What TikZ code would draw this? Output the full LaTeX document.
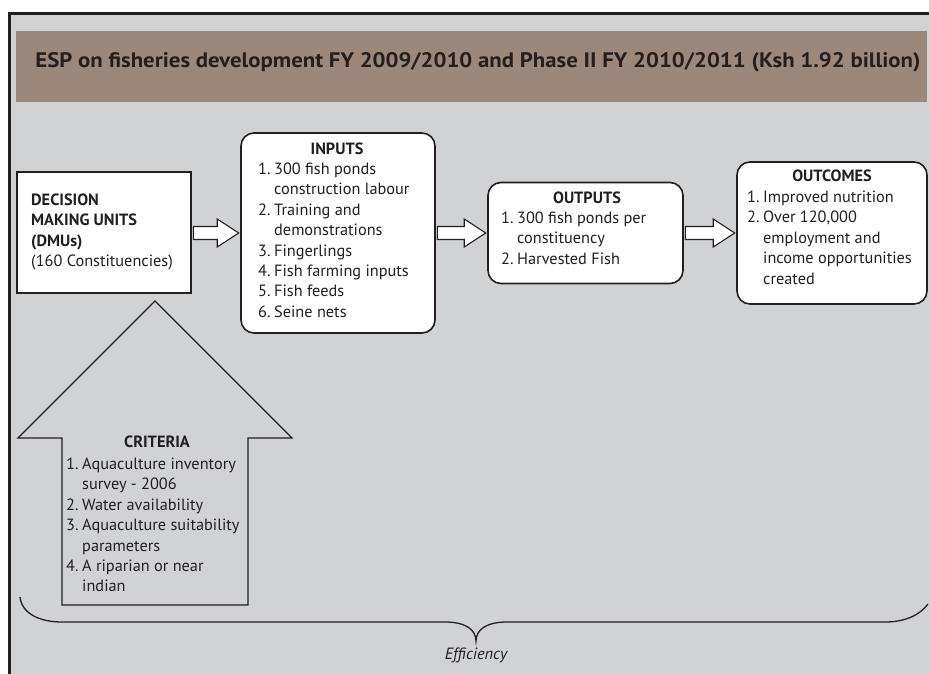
\documentclass[tikz,border=0pt]{standalone}
\usepackage{fontspec}
\setmainfont{PT Sans}
\usetikzlibrary{calc}
\definecolor{panel}{HTML}{D1D2D4}
\definecolor{band}{HTML}{9C887A}
\definecolor{ink}{HTML}{231F20}
\newcommand\bodyfont{\fontsize{16.3}{20.4}\selectfont}
\newcommand\itm[1]{\makebox[16pt][l]{#1}}
\newcommand\ind{\hspace*{16pt}}
\newcommand\blockarrow[2]{%
  \draw[blk] ($(#1.east |- #2.west)+(1.5,-6.5)$) -- ($(#2.west)+(-23,-6.5)$)
    -- ($(#2.west)+(-23,-14)$) -- ($(#2.west)+(-1.5,0)$) -- ($(#2.west)+(-23,14)$)
    -- ($(#2.west)+(-23,6.5)$) -- ($(#1.east |- #2.west)+(1.5,6.5)$) -- cycle;}
\tikzset{
  box/.style={draw=ink, line width=1.6pt, fill=white, inner sep=0pt},
  rbox/.style={box, rounded corners=13pt},
  txt/.style={inner sep=0pt, anchor=base west, font=\bodyfont, text=ink},
  head/.style={inner sep=0pt, anchor=base, font=\bodyfont\bfseries, text=ink},
  blk/.style={draw=ink, line width=1.1pt, fill=white, line join=miter},
  outline/.style={draw=ink, line width=1.1pt},
}
\begin{document}
\begin{tikzpicture}[x=1pt,y=-1pt]
\useasboundingbox (0,0) rectangle (929,674);
\clip (0,0) rectangle (929,674);
% frame
\fill[panel] (9,13.5) rectangle (945,690);
\draw[ink, line width=3pt] (9,690) -- (9,13.5) -- (945,13.5);
% title band
\fill[band] (16,31) rectangle (927,102);
\node[inner sep=0pt, anchor=base, text=ink] (title) at (478,67.5)
  {\resizebox{885pt}{15pt}{\bfseries ESP on fisheries development FY 2009/2010 and Phase II FY 2010/2011 (Ksh 1.92 billion)}};

% boxes
\node[box, minimum width=174pt, minimum height=121pt] (dmu) at (104,232.5) {};
\node[rbox, minimum width=194pt, minimum height=200pt] (inputs) at (338,233) {};
\node[rbox, minimum width=195pt, minimum height=101pt] (outputs) at (585.5,233) {};
\node[rbox, minimum width=190pt, minimum height=142pt] (outcomes) at (832,233) {};

% texts
\node[txt] (dmutxt) at (31,205.5) {\begin{tabular}[t]{@{}l@{}}
\textbf{DECISION}\\ \textbf{MAKING UNITS}\\ \textbf{(DMUs)}\\ (160 Constituencies)\end{tabular}};

\node[head] (inhead) at (337,154) {INPUTS};
\node[txt] (intxt) at (258,174.5) {\begin{tabular}[t]{@{}l@{}}
\itm{1.}300 fish ponds\\ \ind construction labour\\
\itm{2.}Training and\\ \ind demonstrations\\
\itm{3.}Fingerlings\\ \itm{4.}Fish farming inputs\\
\itm{5.}Fish feeds\\ \itm{6.}Seine nets\end{tabular}};

\node[head] (outhead) at (587,203) {OUTPUTS};
\node[txt] (outtxt) at (501,223.5) {\begin{tabular}[t]{@{}l@{}}
\itm{1.}300 fish ponds per\\ \ind constituency\\ \itm{2.}Harvested Fish\end{tabular}};

\node[head] (ochead) at (832,182) {OUTCOMES};
\node[txt] (octxt) at (747,202.5) {\begin{tabular}[t]{@{}l@{}}
\itm{1.}Improved nutrition\\ \itm{2.}Over 120,000\\ \ind employment and\\
\ind income opportunities\\ \ind created\end{tabular}};

% block arrows
\blockarrow{dmu}{inputs}
\blockarrow{inputs}{outputs}
\blockarrow{outputs}{outcomes}

% criteria up arrow
\draw[outline, line join=miter] (18,438) -- (155,301) -- (292,438) -- (248,438)
  -- (248,605) -- (62,605) -- (62,438) -- cycle;
\node[head] (crhead) at (157,447.7) {CRITERIA};
\node[txt] (crtxt) at (66,469.5) {\begin{tabular}[t]{@{}l@{}}
\itm{1.}Aquaculture inventory\\ \ind survey - 2006\\
\itm{2.}Water availability\\ \itm{3.}Aquaculture suitability\\
\ind parameters\\ \itm{4.}A riparian or near\\ \ind indian\end{tabular}};

% brace
\coordinate (bl) at (20,597);
\coordinate (bt) at (476,641);
\coordinate (br) at (928,604);
\draw[ink, line width=1.3pt] (bl) .. controls (22,614) and (40,622) .. (62,622)
  -- (445,622) .. controls (466,622) and (476,630) .. (bt)
  .. controls (476,630) and (486,622) .. (507,622)
  -- (885,622) .. controls (905,622) and (920,615) .. (br);
\node[inner sep=0pt, anchor=base, font=\bodyfont\itshape, text=ink] (eff) at (476,659) {Efficiency};
\end{tikzpicture}
\end{document}
